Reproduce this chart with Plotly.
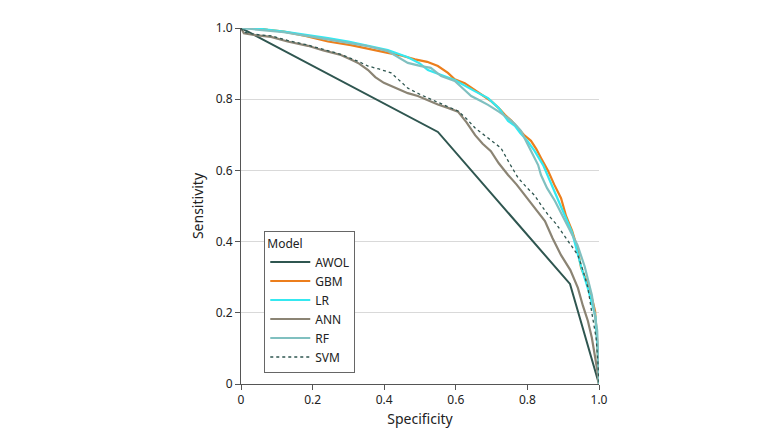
import plotly.graph_objects as go

# Specificity / sensitivity points
awol_spec = [0.0, 0.55, 0.919, 1.0]
awol_sens = [1.0, 0.708, 0.281, 0.0]

gbm_spec = [0.0, 0.04, 0.075, 0.12, 0.18, 0.243, 0.307, 0.36, 0.41, 0.45, 0.486,
            0.52, 0.55, 0.578, 0.597, 0.625, 0.654, 0.675, 0.698, 0.72, 0.737,
            0.755, 0.774, 0.79, 0.81, 0.825, 0.838, 0.858, 0.875, 0.894, 0.908,
            0.925, 0.94, 0.95, 0.965, 0.978, 0.989, 0.995, 1.0]
gbm_sens = [1.0, 1.0, 0.995, 0.99, 0.978, 0.962, 0.952, 0.94, 0.93, 0.922, 0.912,
            0.905, 0.893, 0.874, 0.856, 0.845, 0.826, 0.81, 0.795, 0.775, 0.756,
            0.74, 0.719, 0.70, 0.683, 0.66, 0.635, 0.598, 0.56, 0.522, 0.472,
            0.43, 0.38, 0.326, 0.29, 0.25, 0.205, 0.12, 0.0]

lr_spec = [0.0, 0.05, 0.12, 0.18, 0.243, 0.30, 0.36, 0.41, 0.466, 0.50, 0.522,
           0.56, 0.597, 0.654, 0.69, 0.72, 0.746, 0.765, 0.78, 0.80, 0.82, 0.844,
           0.87, 0.905, 0.925, 0.95, 0.97, 0.99, 0.996, 1.0]
lr_sens = [1.0, 0.998, 0.99, 0.982, 0.972, 0.962, 0.95, 0.938, 0.918, 0.90, 0.882,
           0.868, 0.854, 0.822, 0.803, 0.775, 0.739, 0.725, 0.705, 0.683, 0.655,
           0.615, 0.555, 0.475, 0.425, 0.33, 0.265, 0.19, 0.10, 0.0]

ann_spec = [0.0, 0.008, 0.04, 0.084, 0.13, 0.187, 0.23, 0.279, 0.31, 0.33, 0.355,
            0.375, 0.399, 0.43, 0.466, 0.494, 0.52, 0.55, 0.58, 0.606, 0.63,
            0.654, 0.675, 0.698, 0.72, 0.746, 0.77, 0.793, 0.815, 0.838, 0.849,
            0.87, 0.894, 0.92, 0.941, 0.955, 0.969, 0.98, 0.989, 0.995, 1.0]
ann_sens = [1.0, 0.985, 0.98, 0.975, 0.962, 0.95, 0.937, 0.924, 0.91, 0.90, 0.882,
            0.862, 0.846, 0.832, 0.817, 0.809, 0.797, 0.785, 0.775, 0.765, 0.735,
            0.699, 0.675, 0.654, 0.62, 0.587, 0.56, 0.531, 0.50, 0.472, 0.458,
            0.41, 0.362, 0.32, 0.27, 0.22, 0.177, 0.13, 0.081, 0.04, 0.0]

rf_spec = [0.0, 0.05, 0.12, 0.20, 0.28, 0.35, 0.41, 0.466, 0.503, 0.53, 0.559,
           0.597, 0.62, 0.643, 0.67, 0.69, 0.72, 0.746, 0.765, 0.782, 0.795,
           0.81, 0.83, 0.838, 0.855, 0.877, 0.90, 0.92, 0.94, 0.96, 0.98, 0.995,
           1.0]
rf_sens = [1.0, 0.995, 0.988, 0.975, 0.962, 0.95, 0.935, 0.902, 0.893, 0.888,
           0.865, 0.851, 0.83, 0.809, 0.795, 0.784, 0.765, 0.747, 0.73, 0.711,
           0.685, 0.654, 0.615, 0.587, 0.55, 0.514, 0.47, 0.43, 0.39, 0.33, 0.25,
           0.15, 0.0]

svm_spec = [0.0, 0.008, 0.04, 0.084, 0.13, 0.187, 0.23, 0.279, 0.33, 0.355, 0.385,
            0.419, 0.44, 0.466, 0.503, 0.55, 0.58, 0.606, 0.63, 0.654, 0.69,
            0.726, 0.75, 0.774, 0.80, 0.82, 0.84, 0.858, 0.88, 0.90, 0.92, 0.941,
            0.955, 0.969, 0.98, 0.992, 0.997, 1.0]
svm_sens = [1.0, 0.988, 0.982, 0.978, 0.965, 0.952, 0.94, 0.926, 0.905, 0.893,
            0.885, 0.874, 0.855, 0.831, 0.812, 0.79, 0.778, 0.767, 0.745, 0.719,
            0.69, 0.663, 0.62, 0.579, 0.55, 0.53, 0.50, 0.475, 0.45, 0.42, 0.39,
            0.362, 0.32, 0.27, 0.20, 0.129, 0.06, 0.0]

tick_vals = [0, 0.2, 0.4, 0.6, 0.8, 1.0]
tick_text = ["0", "0.2", "0.4", "0.6", "0.8", "1.0"]

series = [
    ("AWOL", awol_spec, awol_sens, "#2f5650", "solid", 2),
    ("GBM", gbm_spec, gbm_sens, "#ec7e1c", "solid", 2.2),
    ("LR", lr_spec, lr_sens, "#35e8f0", "solid", 2.2),
    ("ANN", ann_spec, ann_sens, "#8b8474", "solid", 2.2),
    ("RF", rf_spec, rf_sens, "#80c0c0", "solid", 2.2),
    ("SVM", svm_spec, svm_sens, "#2f5650", "dot", 1.3),
]

fig = go.Figure()
for name, xs, ys, color, dash, width in series:
    fig.add_trace(go.Scatter(
        x=xs, y=ys, mode="lines", name=name,
        line=dict(color=color, width=width, dash=dash),
    ))

fig.update_layout(
    width=780, height=432,
    margin=dict(l=233, r=189, t=20, b=56),
    plot_bgcolor="white", paper_bgcolor="white",
    font=dict(family="Noto Sans", size=12, color="#222222"),
    legend=dict(
        title=dict(text="Model", font=dict(size=12)),
        x=0.065, y=0.43, xanchor="left", yanchor="top",
        bordercolor="#666666", borderwidth=1, bgcolor="white",
        font=dict(size=12), tracegroupgap=0, itemwidth=40,
    ),
)
fig.update_xaxes(
    range=[0, 1], tickvals=tick_vals, ticktext=tick_text,
    showgrid=False, zeroline=False,
    showline=True, linecolor="#555555", linewidth=1,
    ticks="outside", ticklen=5, tickcolor="#555555",
    title=dict(text="Specificity", standoff=6),
)
fig.update_yaxes(
    range=[0, 1], tickvals=tick_vals, ticktext=tick_text,
    showgrid=True, gridcolor="#d9d9d9", gridwidth=1, zeroline=False,
    showline=True, linecolor="#555555", linewidth=1,
    ticks="outside", ticklen=5, tickcolor="#555555",
    title=dict(text="Sensitivity", standoff=8),
)

fig.write_html("out.html")
